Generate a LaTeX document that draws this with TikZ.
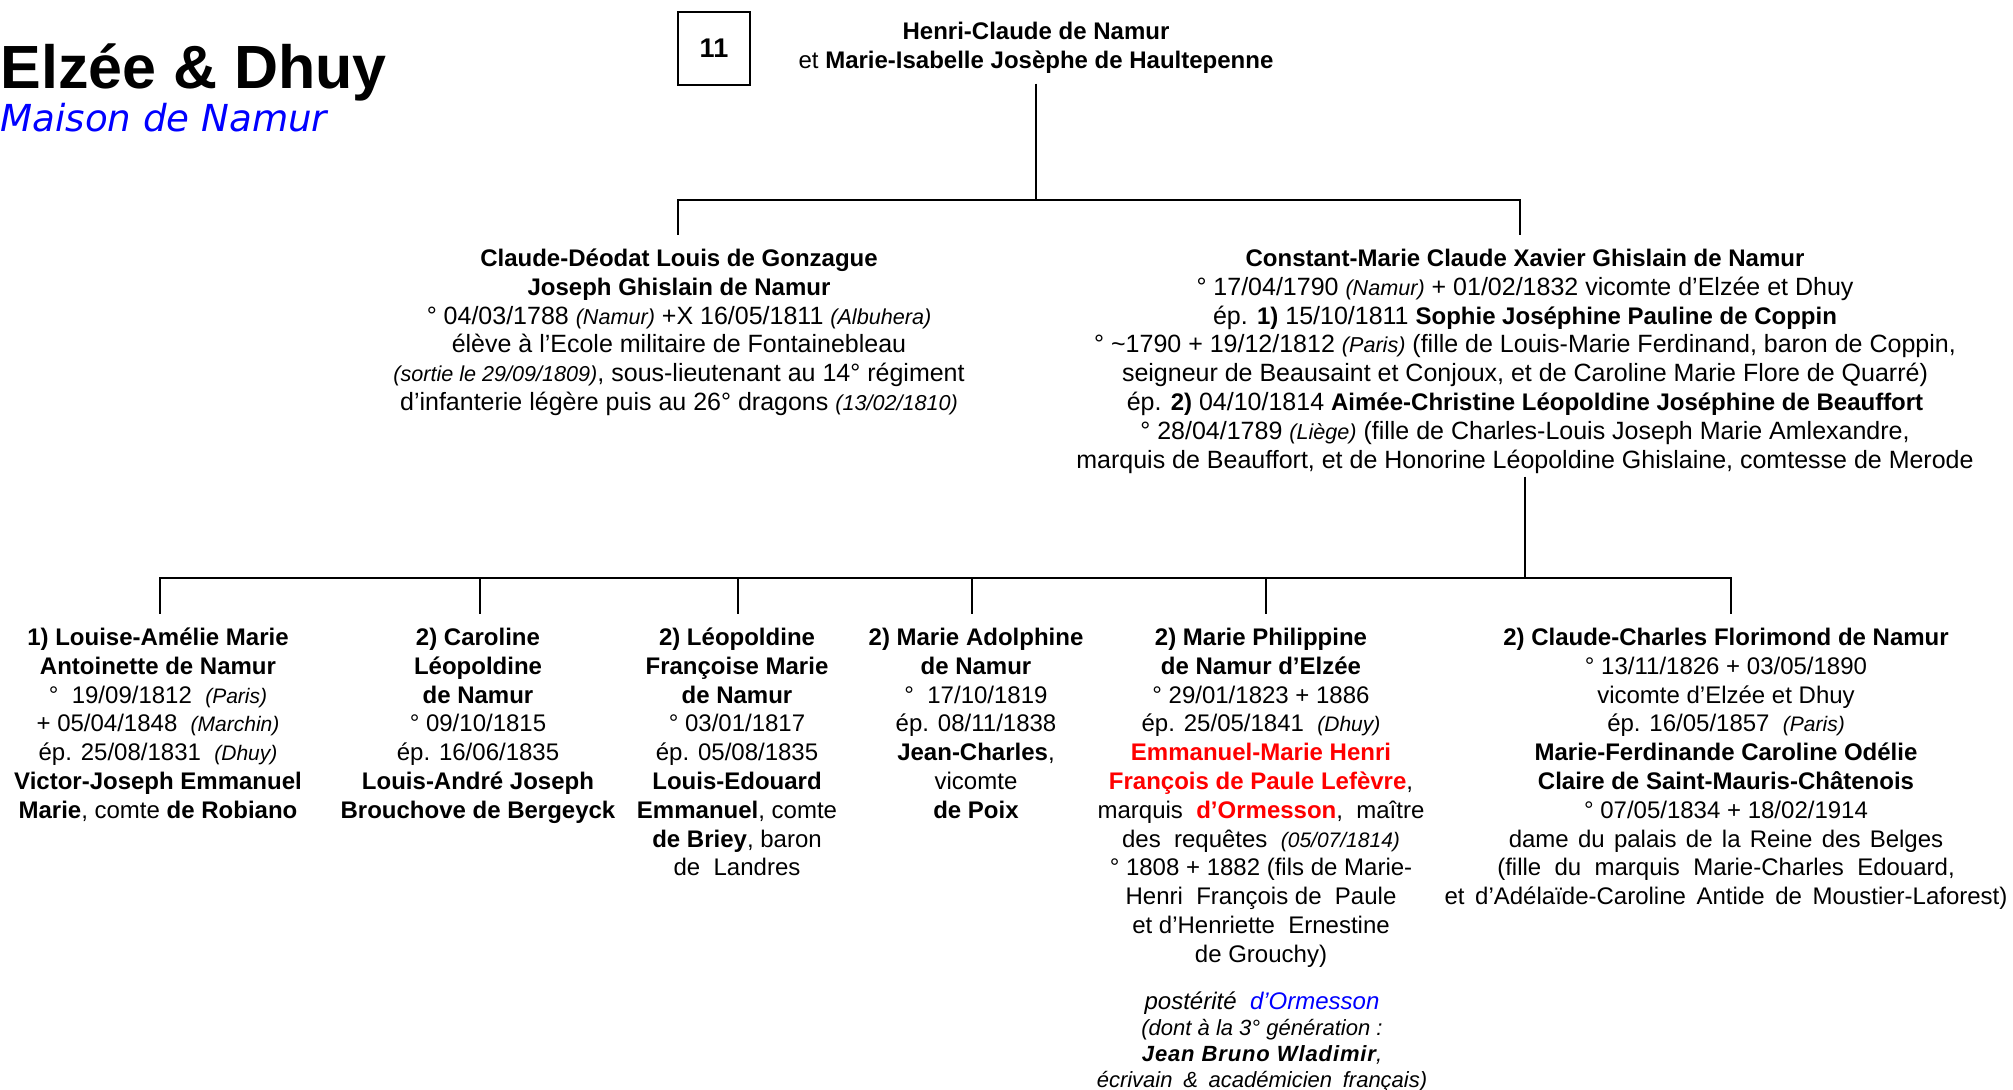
\documentclass[tikz,border=0pt]{standalone}
\usepackage{fontspec}
\setmainfont{Liberation Sans}
\newfontfamily\dejavuobl{DejaVu Sans Oblique}
\usetikzlibrary{calc}
\definecolor{nred}{RGB}{255,0,0}
\definecolor{nblue}{RGB}{0,0,255}
\newcommand\pl[1]{{\fontsize{10.5}{14.4}\selectfont\itshape #1}}
\newcommand\pL[1]{{\fontsize{10.8}{14.4}\selectfont\itshape #1}}
\newcommand\rb[1]{\textcolor{nred}{\textbf{#1}}}
\newcommand\B[1]{{\fontsize{12}{14.4}\selectfont\bfseries #1}}
\newcommand\gapx[1]{\hspace{#1}}
\begin{document}
\begin{tikzpicture}[x=0.5pt,y=-0.5pt,
  txt/.style={align=center,inner sep=0pt,anchor=north,font=\fontsize{12}{14.4}\selectfont},
  txtw/.style={align=center,inner sep=0pt,anchor=north,font=\fontsize{12.5}{14.4}\selectfont},
  conn/.style={line width=1.3pt}]
\useasboundingbox (0,0) rectangle (2013,1090);
\node[anchor=base west,inner sep=0pt,font=\fontsize{30.5}{36}\selectfont\bfseries] (title) at (0,89) {Elzée \& Dhuy};
\node[anchor=base west,inner sep=0pt,font=\dejavuobl\fontsize{18.6}{22}\selectfont,text=nblue] (sub) at (0,132) {Maison de Namur};
\node[draw,line width=0.8pt,minimum width=36pt,minimum height=36.5pt,inner sep=0pt,font=\fontsize{13.5}{14}\selectfont\bfseries] (num) at (714,48.5) {11};

\node[txt] (hc) at (1036,19) {\strut\textbf{Henri-Claude de Namur}\\et \textbf{Marie-Isabelle Josèphe de Haultepenne}};

\node[txtw] (cl) at (679,246) {\strut\B{Claude-Déodat Louis de Gonzague}\\
\B{Joseph Ghislain de Namur}\\
° 04/03/1788 \pL{(Namur)} +X 16/05/1811 \pL{(Albuhera)}\\
élève à l’Ecole militaire de Fontainebleau\\
\pL{(sortie le 29/09/1809)}, sous-lieutenant au 14° régiment\\
d’infanterie légère puis au 26° dragons \pL{(13/02/1810)}};

\node[txtw] (cm) at (1525,246) {\strut\B{Constant-Marie Claude Xavier Ghislain de Namur}\\
° 17/04/1790 \pL{(Namur)} + 01/02/1832 vicomte d’Elzée et Dhuy\\
ép. \B{1)} 15/10/1811 \B{Sophie Joséphine Pauline de Coppin}\\
° \textasciitilde1790 + 19/12/1812 \pL{(Paris)} (fille de Louis-Marie Ferdinand, baron de Coppin,\\
seigneur de Beausaint et Conjoux, et de Caroline Marie Flore de Quarré)\\
ép. \B{2)} 04/10/1814 \B{Aimée-Christine Léopoldine Joséphine de Beauffort}\\
° 28/04/1789 \pL{(Liège)} (fille de Charles-Louis Joseph Marie Amlexandre,\\
marquis de Beauffort, et de Honorine Léopoldine Ghislaine, comtesse de Merode};

\node[txt] (c1) at (158,625) {\strut\textbf{1) Louise-Amélie Marie}\\
\textbf{Antoinette de Namur}\\
°\ \ 19/09/1812\ \ \pl{(Paris)}\\
+\ 05/04/1848\ \ \pl{(Marchin)}\\
ép. 25/08/1831\ \ \pl{(Dhuy)}\\
\textbf{Victor-Joseph Emmanuel}\\
\textbf{Marie}, comte \textbf{de Robiano}};

\node[txt] (c2) at (478,625) {\strut\textbf{2) Caroline}\\
\textbf{Léopoldine}\\
\textbf{de Namur}\\
° 09/10/1815\\
ép. 16/06/1835\\
\textbf{Louis-André Joseph}\\
\textbf{Brouchove de Bergeyck}};

\node[txt] (c3) at (737,625) {\strut\textbf{2) Léopoldine}\\
\textbf{Françoise Marie}\\
\textbf{de Namur}\\
° 03/01/1817\\
ép. 05/08/1835\\
\textbf{Louis-Edouard}\\
\textbf{Emmanuel}, comte\\
\textbf{de Briey}, baron\\
de\ \ Landres};

\node[txt] (c4) at (976,625) {\strut\textbf{2) Marie Adolphine}\\
\textbf{de Namur}\\
°\ \ 17/10/1819\\
ép. 08/11/1838\\
\textbf{Jean-Charles},\\
vicomte\\
\textbf{de Poix}};

\node[txt] (c5) at (1261,625) {\strut\textbf{2) Marie Philippine}\\
\textbf{de Namur d’Elzée}\\
° 29/01/1823 + 1886\\
ép. 25/05/1841\ \ \pl{(Dhuy)}\\
\rb{Emmanuel-Marie Henri}\\
\rb{François de Paule Lefèvre},\\
marquis\ \ \rb{d’Ormesson},\ \ maître\\
des\ \ requêtes\ \ \pl{(05/07/1814)}\\
° 1808 + 1882 (fils de Marie-\\
Henri\ \ François de\ \ Paule\\
et d’Henriette\ \ Ernestine\\
de Grouchy)};

\node[txt,font=\fontsize{11}{13}\selectfont\itshape] (c5b) at (1262,991) {\strut{\fontsize{12}{13}\selectfont postérité\ \ \textcolor{nblue}{d’Ormesson}}\\
(dont à la 3° génération :\\
{\bfseries\addfontfeature{LetterSpace=4}Jean Bruno Wladimir},\\
écrivain\gapx{2.3pt} \&\gapx{2.3pt} académicien\gapx{2.3pt} français)};

\node[txt] (c6) at (1726,625) {\strut\textbf{2) Claude-Charles Florimond de Namur}\\
° 13/11/1826 + 03/05/1890\\
vicomte d’Elzée et Dhuy\\
ép. 16/05/1857\ \ \pl{(Paris)}\\
\textbf{Marie-Ferdinande Caroline Odélie}\\
\textbf{Claire de Saint-Mauris-Châtenois}\\
° 07/05/1834 + 18/02/1914\\
dame\gapx{1.3pt} du\gapx{1.3pt} palais\gapx{1.3pt} de\gapx{1.3pt} la\gapx{1.3pt} Reine\gapx{1.3pt} des\gapx{1.3pt} Belges\\
(fille\ \ du\ \ marquis\ \ Marie-Charles\ \ Edouard,\\
et\gapx{2pt} d’Adélaïde-Caroline\gapx{2pt} Antide\gapx{2pt} de\gapx{2pt} Moustier-Laforest)};

% connectors
\coordinate (jl) at (678,200);
\coordinate (jr) at (1520,200);
\draw[conn,shorten <=5pt] (hc.south) -- (hc.south |- jl);
\draw[conn,shorten <=5.5pt,shorten >=5.5pt] (jl |- cl.north) -- (jl) -- (jr) -- (jr |- cm.north);

\coordinate (jc1) at (160,578);
\coordinate (jc2) at (480,578);
\coordinate (jc3) at (738,578);
\coordinate (jc4) at (972,578);
\coordinate (jc5) at (1266,578);
\coordinate (jc6) at (1731,578);
\draw[conn,shorten <=1.5pt] (cm.south) -- (cm.south |- jc1);
\draw[conn,shorten <=5.5pt,shorten >=5.5pt] (jc1 |- c1.north) -- (jc1) -- (jc6) -- (jc6 |- c6.north);
\draw[conn,shorten >=5.5pt] (jc2) -- (jc2 |- c2.north);
\draw[conn,shorten >=5.5pt] (jc3) -- (jc3 |- c3.north);
\draw[conn,shorten >=5.5pt] (jc4) -- (jc4 |- c4.north);
\draw[conn,shorten >=5.5pt] (jc5) -- (jc5 |- c5.north);
\end{tikzpicture}
\end{document}
